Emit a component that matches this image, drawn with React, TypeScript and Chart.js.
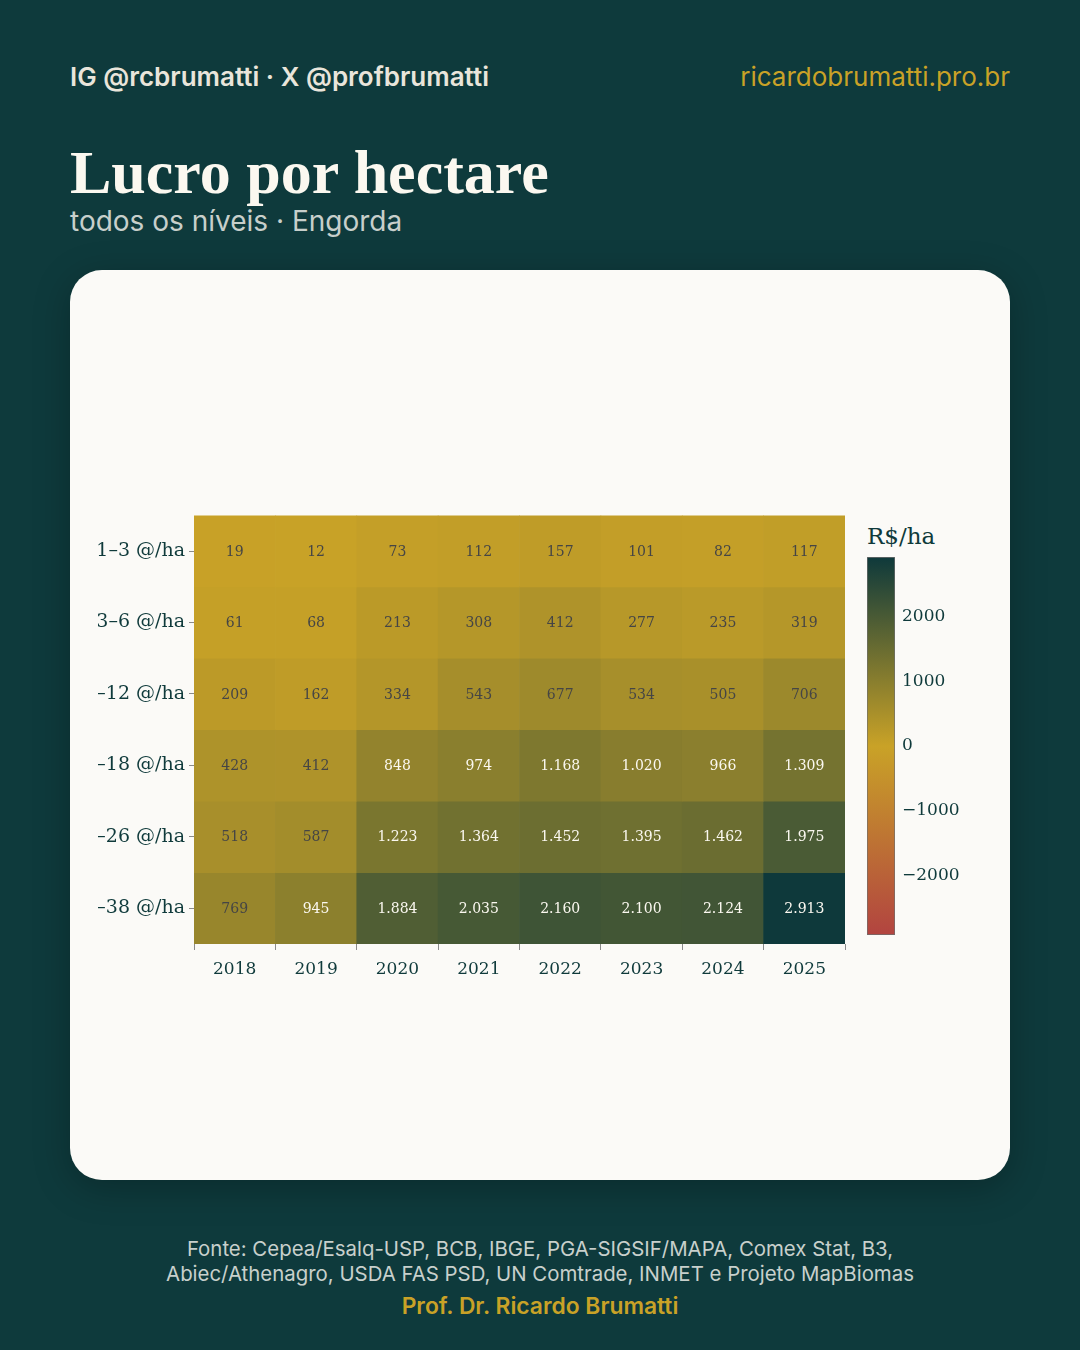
import React, { useEffect, useRef } from "react";
import { Chart, registerables } from "chart.js";

Chart.register(...registerables);

// ---- data ----
const years = ["2018", "2019", "2020", "2021", "2022", "2023", "2024", "2025"];
const rowLabels = ["1–3 @/ha", "3–6 @/ha", "6–12 @/ha", "12–18 @/ha", "18–26 @/ha", "26–38 @/ha"];
const row1to3 = [19, 12, 73, 112, 157, 101, 82, 117];
const row3to6 = [61, 68, 213, 308, 412, 277, 235, 319];
const row6to12 = [209, 162, 334, 543, 677, 534, 505, 706];
const row12to18 = [428, 412, 848, 974, 1168, 1020, 966, 1309];
const row18to26 = [518, 587, 1223, 1364, 1452, 1395, 1462, 1975];
const row26to38 = [769, 945, 1884, 2035, 2160, 2100, 2124, 2913];
const rowValues = [row1to3, row3to6, row6to12, row12to18, row18to26, row26to38];
const colorMin = -2913;
const colorMax = 2913;
const colorbarTicks = [-2000, -1000, 0, 1000, 2000];
const lightTextThreshold = 800;

// ---- style ----
const BG = "#0e3a3c";
const CARD = "#fbfaf7";
const INK = "#0f3a3b";
const GOLD = "#c9a227";
const SERIF = "'DejaVu Serif', serif";
const SANS = "Inter, 'Noto Sans', sans-serif";
const LOW = [178, 68, 64];
const MID = [201, 162, 39];
const HIGH = [14, 57, 59];

function mix(a: number[], b: number[], t: number) {
  const c = a.map((v, i) => Math.round(v + (b[i] - v) * t));
  return `rgb(${c[0]},${c[1]},${c[2]})`;
}
function colorFor(v: number) {
  if (v >= 0) return mix(MID, HIGH, Math.min(1, v / colorMax));
  return mix(MID, LOW, Math.min(1, v / colorMin));
}
function fmt(v: number) {
  return String(Math.round(v)).replace(/\B(?=(\d{3})+(?!\d))/g, ".");
}

const cellLabels = {
  id: "cellLabels",
  afterDatasetsDraw(chart: any) {
    const ctx = chart.ctx;
    ctx.save();
    ctx.font = `14px ${SERIF}`;
    ctx.textAlign = "center";
    ctx.textBaseline = "middle";
    chart.data.datasets.forEach((ds: any, r: number) => {
      const meta = chart.getDatasetMeta(r);
      meta.data.forEach((el: any, j: number) => {
        const v = rowValues[r][j];
        ctx.fillStyle = v > lightTextThreshold ? "#fbf8f0" : "#454545";
        ctx.fillText(fmt(v), el.x, (el.y + el.base) / 2 + 1);
      });
    });
    ctx.restore();
  },
};

function Heatmap() {
  const ref = useRef<HTMLCanvasElement>(null);
  useEffect(() => {
    const chart = new Chart(ref.current!, {
      type: "bar",
      data: {
        labels: years,
        datasets: rowValues.map((vals, r) => ({
          label: rowLabels[r],
          data: years.map(() => [r - 0.5, r + 0.5]) as any,
          backgroundColor: vals.map(colorFor),
          grouped: false,
          barPercentage: 1,
          categoryPercentage: 1,
          borderWidth: 0,
        })),
      },
      options: {
        animation: false,
        responsive: false,
        layout: { padding: { top: 14, right: 13, left: 0, bottom: 0 } },
        plugins: { legend: { display: false }, tooltip: { enabled: false } },
        scales: {
          x: {
            type: "category",
            grid: { display: true, drawOnChartArea: false, drawTicks: true, tickLength: 6, color: "#8a8a8a" },
            border: { display: false },
            ticks: { color: INK, font: { family: SERIF, size: 17 }, padding: 9, maxRotation: 0 },
            afterFit: (s: any) => { s.height = 56; },
          },
          y: {
            type: "linear",
            min: -0.5,
            max: 5.5,
            reverse: true,
            grid: { display: true, drawOnChartArea: false, drawTicks: true, tickLength: 5, color: "#8a8a8a" },
            border: { display: false },
            afterBuildTicks: (s: any) => { s.ticks = rowLabels.map((_, i) => ({ value: i })); },
            ticks: {
              color: INK,
              font: { family: SERIF, size: 19 },
              padding: 4,
              callback: (v: any) => rowLabels[Math.round(Number(v))] ?? "",
            },
            afterFit: (s: any) => { s.width = 96; },
          },
        },
      },
      plugins: [cellLabels],
    } as any);
    return () => chart.destroy();
  }, []);
  return <canvas ref={ref} width={760} height={500} style={{ position: "absolute", left: 98, top: 500 }} />;
}

function ColorBar() {
  const ref = useRef<HTMLCanvasElement>(null);
  useEffect(() => {
    const chart = new Chart(ref.current!, {
      type: "bar",
      data: {
        labels: [""],
        datasets: [{
          data: [[colorMin, colorMax]] as any,
          backgroundColor: (c: any) => {
            const ch = c.chart;
            const y = ch.scales?.y;
            if (!ch.chartArea || !y) return GOLD;
            const g = ch.ctx.createLinearGradient(0, y.getPixelForValue(colorMin), 0, y.getPixelForValue(colorMax));
            g.addColorStop(0, mix(LOW, LOW, 0));
            g.addColorStop(0.5, mix(MID, MID, 0));
            g.addColorStop(1, mix(HIGH, HIGH, 0));
            return g;
          },
          borderColor: "#6e6e6e",
          borderWidth: 1,
          borderSkipped: false,
          barPercentage: 1,
          categoryPercentage: 1,
        }],
      },
      options: {
        animation: false,
        responsive: false,
        layout: { padding: { top: 10, bottom: 12, left: 1, right: 0 } },
        plugins: { legend: { display: false }, tooltip: { enabled: false } },
        scales: {
          x: { display: false },
          y: {
            position: "right",
            min: colorMin,
            max: colorMax,
            grid: { display: false, drawTicks: false },
            border: { display: false },
            afterBuildTicks: (s: any) => { s.ticks = colorbarTicks.map((v) => ({ value: v })); },
            ticks: {
              color: INK,
              padding: 7,
              font: { family: SERIF, size: 17 },
              callback: (v: any) => (Number(v) < 0 ? "−" + Math.abs(Number(v)) : String(v)),
            },
            afterFit: (s: any) => { s.width = 95; s.paddingTop = 0; s.paddingBottom = 0; },
          },
        },
      },
    } as any);
    return () => chart.destroy();
  }, []);
  return <canvas ref={ref} width={124} height={400} style={{ position: "absolute", left: 866, top: 547 }} />;
}

export default function App() {
  const abs = (o: any): React.CSSProperties => ({ position: "absolute", lineHeight: 1, whiteSpace: "nowrap", margin: 0, ...o });
  return (
    <div style={{ position: "absolute", left: 0, top: 0, width: 1080, height: 1350, background: BG, overflow: "hidden" }}>
      <div style={abs({ left: 70, top: 63.5, fontFamily: SANS, fontWeight: 600, fontSize: 26, color: "#e9e5db" })}>
        IG @rcbrumatti · X @profbrumatti
      </div>
      <div style={abs({ right: 70, top: 63.5, fontFamily: SANS, fontWeight: 400, fontSize: 26, color: GOLD })}>
        ricardobrumatti.pro.br
      </div>
      <div style={abs({ left: 70, top: 141, fontFamily: "'Liberation Serif', serif", fontWeight: 700, fontSize: 62, color: "#fbf8f0" })}>
        Lucro por hectare
      </div>
      <div style={abs({ left: 70, top: 207, fontFamily: SANS, fontWeight: 400, fontSize: 28, color: "#c7cfcb" })}>
        todos os níveis · Engorda
      </div>
      <div style={{ position: "absolute", left: 70, top: 270, width: 940, height: 910, borderRadius: 32, background: CARD, boxShadow: "0 8px 36px rgba(0,0,0,0.25)", overflow: "hidden" }} />
      <Heatmap />
      <div style={abs({ left: 867, top: 525, fontFamily: SERIF, fontSize: 23, color: INK })}>R$/ha</div>
      <ColorBar />
      <div style={abs({ left: 0, width: 1080, textAlign: "center", top: 1238.5, fontFamily: SANS, fontSize: 20.4, color: "#c8d0cc" })}>
        Fonte: Cepea/Esalq-USP, BCB, IBGE, PGA-SIGSIF/MAPA, Comex Stat, B3,
      </div>
      <div style={abs({ left: 0, width: 1080, textAlign: "center", top: 1263.5, fontFamily: SANS, fontSize: 20.4, color: "#c8d0cc" })}>
        Abiec/Athenagro, USDA FAS PSD, UN Comtrade, INMET e Projeto MapBiomas
      </div>
      <div style={abs({ left: 0, width: 1080, textAlign: "center", top: 1294.5, fontFamily: SANS, fontWeight: 600, fontSize: 22.8, color: GOLD })}>
        Prof. Dr. Ricardo Brumatti
      </div>
    </div>
  );
}
